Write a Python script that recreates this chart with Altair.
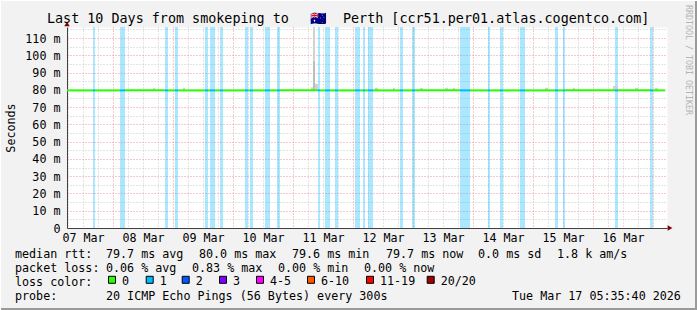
import altair as alt
import pandas as pd

MONO = "DejaVu Sans Mono"

# ---------------- data ----------------
title_left = "Last 10 Days from smokeping to"
title_flag = "🇦🇺"
title_right = "Perth [ccr51.per01.atlas.cogentco.com]"

range_start = "2026-03-07T05:35:40Z"
range_end = "2026-03-17T05:35:40Z"
line_end = "2026-03-17T04:48:00Z"

# periods with packet loss (1/20)
band_start = ["2026-03-07T16:00", "2026-03-08T02:48", "2026-03-08T20:48", "2026-03-09T00:48",
              "2026-03-09T12:48", "2026-03-09T14:48", "2026-03-09T18:48", "2026-03-10T04:48",
              "2026-03-10T06:48", "2026-03-10T12:48", "2026-03-10T17:36", "2026-03-11T10:00",
              "2026-03-11T12:48", "2026-03-11T16:48", "2026-03-12T00:48", "2026-03-12T04:00",
              "2026-03-12T06:00", "2026-03-12T18:48", "2026-03-12T23:36", "2026-03-13T18:48",
              "2026-03-14T06:00", "2026-03-14T10:48", "2026-03-14T18:48", "2026-03-15T08:48",
              "2026-03-15T12:00", "2026-03-16T08:48", "2026-03-16T22:48"]
band_end = ["2026-03-07T16:48", "2026-03-08T04:48", "2026-03-08T22:00", "2026-03-09T02:00",
            "2026-03-09T14:00", "2026-03-09T16:48", "2026-03-09T20:00", "2026-03-10T06:00",
            "2026-03-10T08:00", "2026-03-10T14:48", "2026-03-10T18:48", "2026-03-11T10:48",
            "2026-03-11T14:48", "2026-03-11T18:00", "2026-03-12T02:48", "2026-03-12T04:48",
            "2026-03-12T08:00", "2026-03-12T20:00", "2026-03-13T00:48", "2026-03-13T22:48",
            "2026-03-14T06:48", "2026-03-14T12:00", "2026-03-14T20:48", "2026-03-15T10:00",
            "2026-03-15T12:48", "2026-03-16T10:00", "2026-03-17T00:00"]
band_loss = ["1"] * len(band_start)

median_ms = 79.7

# smoke (ping spread) around the median
smoke_start = ["2026-03-11T08:00", "2026-03-11T08:00", "2026-03-11T08:48", "2026-03-11T07:12",
               "2026-03-08T16:00", "2026-03-09T04:00", "2026-03-12T08:48", "2026-03-12T16:00",
               "2026-03-13T02:48", "2026-03-13T12:48", "2026-03-13T16:00", "2026-03-15T04:48",
               "2026-03-15T16:00", "2026-03-16T08:00", "2026-03-16T16:48", "2026-03-17T00:48"]
smoke_end = ["2026-03-11T08:48", "2026-03-11T08:48", "2026-03-11T10:00", "2026-03-11T08:00",
             "2026-03-08T16:48", "2026-03-09T04:48", "2026-03-12T10:00", "2026-03-12T16:48",
             "2026-03-13T04:00", "2026-03-13T14:00", "2026-03-13T16:48", "2026-03-15T06:00",
             "2026-03-15T16:48", "2026-03-16T10:00", "2026-03-16T18:00", "2026-03-17T02:00"]
smoke_lo = [79.7, 97.0, 79.7, 79.7, 79.7, 79.7, 79.7, 79.7, 79.7, 79.7, 79.7, 79.7, 79.7, 79.7, 79.7, 79.7]
smoke_hi = [97.0, 116.4, 83.5, 81.5, 81.2, 81.2, 81.2, 81.2, 81.2, 81.2, 81.2, 81.2, 81.2, 82.3, 81.2, 81.2]
smoke_shade = ["inner", "outer", "outer", "outer", "outer", "outer", "outer", "outer",
               "outer", "outer", "outer", "outer", "outer", "outer", "outer", "outer"]

loss_labels = ["0", "1", "2", "3", "4-5", "6-10", "11-19", "20/20"]
loss_colors = ["#26ff00", "#00b8ff", "#0059ff", "#7e00ff", "#ff00ff", "#ff5500", "#ff0000", "#a10000"]

rtt_stats = ["79.7 ms avg", "80.0 ms max", "79.6 ms min", "79.7 ms now", "0.0 ms sd", "1.8 k am/s"]
loss_stats = ["0.06 % avg", "0.83 % max", "0.00 % min", "0.00 % now"]
probe_text = "20 ICMP Echo Pings (56 Bytes) every 300s"
stamp_text = "Tue Mar 17 05:35:40 2026"
y_title = "Seconds"
side_text = "RRDTOOL / TOBI OETIKER"
legend_title = "loss color:"


def iso(s):
    return s + ":00Z" if len(s) == 16 else s


# median segments coloured by loss
seg_start, seg_end, seg_loss = [], [], []
cur = range_start
for s, e, l in sorted(zip(map(iso, band_start), map(iso, band_end), band_loss)):
    if s > cur:
        seg_start.append(cur); seg_end.append(s); seg_loss.append("0")
    seg_start.append(s); seg_end.append(e); seg_loss.append(l)
    cur = e
if cur < line_end:
    seg_start.append(cur); seg_end.append(line_end); seg_loss.append("0")

bands_df = pd.DataFrame({"start": [iso(s) for s in band_start],
                         "end": [iso(s) for s in band_end], "loss": band_loss})
median_df = pd.DataFrame({"start": seg_start, "end": seg_end, "loss": seg_loss,
                          "ms": [median_ms] * len(seg_start)})
smoke_df = pd.DataFrame({"start": [iso(s) for s in smoke_start], "end": [iso(s) for s in smoke_end],
                         "lo": smoke_lo, "hi": smoke_hi, "shade": smoke_shade})

# grid positions (every 6 h, every 5 ms)
x_ticks = [int(t.value // 10**6) for t in
           pd.date_range("2026-03-07T06:00", "2026-03-17T00:00", freq="6h", tz="UTC")]
y_ticks = list(range(0, 116, 5))

MAJOR = "#f09393"
MINOR = "#c8c8c8"

x_scale = alt.Scale(type="utc", domain=[
    alt.DateTime(year=2026, month=3, date=7, hours=5, minutes=35, seconds=40, utc=True),
    alt.DateTime(year=2026, month=3, date=17, hours=5, minutes=35, seconds=40, utc=True)])
y_scale = alt.Scale(domain=[0, 116.4], nice=False, zero=False)
loss_scale = alt.Scale(domain=loss_labels, range=loss_colors)

x_axis = alt.Axis(
    values=x_ticks, title=None, ticks=False, domainColor="#404040",
    labelExpr="utchours(datum.value) === 12 ? utcFormat(datum.value, '%d %b') : ''",
    labelFont=MONO, labelFontSize=11.7, labelColor="black", labelBaseline="middle",
    labelPadding=9, labelOverlap=False, labelFlush=False,
    grid=True, gridDash=[1, 2], gridWidth=1,
    gridColor={"condition": {"test": "utchours(datum.value) === 0", "value": MAJOR}, "value": MINOR})

y_axis = alt.Axis(
    values=y_ticks, title=y_title, ticks=False, domainColor="#404040",
    titleFont=MONO, titleFontSize=11.7, titleFontWeight="normal", titleColor="black",
    titleX=-57, titleY=100.5, titleAlign="center", titleBaseline="middle",
    labelExpr="datum.value % 10 === 0 ? (datum.value === 0 ? '0' : datum.value + ' m') : ''",
    labelFont=MONO, labelFontSize=11.7, labelColor="black", labelPadding=7,
    grid=True, gridDash=[1, 2], gridWidth=1,
    gridColor={"condition": {"test": "datum.value % 10 === 0", "value": MAJOR}, "value": MINOR})

bands = alt.Chart(bands_df).mark_rect(fillOpacity=0.33).encode(
    x=alt.X("start:T", scale=x_scale, axis=x_axis),
    x2="end:T",
    color=alt.Color("loss:N", scale=loss_scale, legend=None),
)

smoke = alt.Chart(smoke_df).mark_rect().encode(
    x=alt.X("start:T", scale=x_scale, axis=x_axis),
    x2="end:T",
    y=alt.Y("lo:Q", scale=y_scale, axis=y_axis),
    y2="hi:Q",
    fill=alt.Fill("shade:N", scale=alt.Scale(domain=["inner", "outer"], range=["#bdbdbd", "#d2d2d2"]),
                  legend=None),
)

median = alt.Chart(median_df).mark_rule(strokeWidth=2).encode(
    x=alt.X("start:T", scale=x_scale, axis=x_axis),
    x2="end:T",
    y=alt.Y("ms:Q", scale=y_scale, axis=y_axis),
    stroke=alt.Stroke("loss:N", scale=loss_scale, legend=None),
)


def txt(s, x, y, size=11.7, color="black", align="left", angle=0):
    return alt.Chart(alt.Data(values=[{"t": s}])).mark_text(
        font=MONO, fontSize=size, color=color, align=align, baseline="middle", angle=angle
    ).encode(text="t:N", x=alt.value(x - 67), y=alt.value(y - 27))


def swatch(label, color, x, y):
    return alt.Chart(alt.Data(values=[{"loss": label}])).mark_square(
        size=49, filled=True, fill=color, stroke="black", strokeWidth=1, opacity=1
    ).encode(x=alt.value(x - 67), y=alt.value(y - 27))


texts = [
    txt(title_left, 47, 19, size=13.4),
    txt(title_flag, 318, 19, size=13.4, align="center"),
    txt(title_right, 343, 19, size=13.4),
    txt("median rtt:", 15, 253.5),
    txt("packet loss:", 15, 267.5),
    txt(legend_title, 15, 281.5),
    txt("probe:", 15, 295.5),
    txt(probe_text, 106, 295.5),
    txt(stamp_text, 512, 295.5),
    txt(side_text, 688, 60, size=8.3, color="#b4b4b4", align="center", angle=90),
]
for s, x in zip(rtt_stats, [106, 199, 292, 386, 478, 557]):
    texts.append(txt(s, x, 253.5))
for s, x in zip(loss_stats, [106, 192, 278, 364]):
    texts.append(txt(s, x, 267.5))

# "loss color:" legend entries (square left edges)
legend_left = [108, 145.7, 181.7, 219, 256, 307, 366, 426.7]
legend_layers = []
for lab, col, left in zip(loss_labels, loss_colors, legend_left):
    legend_layers.append(swatch(lab, col, left + 4, 279.8))
    legend_layers.append(txt(lab, left + 14, 281))

one = alt.Data(values=[{}])
arrow_up = alt.Chart(one).mark_point(shape="triangle-up", filled=True, size=30, color="#800000", opacity=1).encode(
    x=alt.value(0), y=alt.value(-3))
arrow_right = alt.Chart(one).mark_point(shape="triangle-right", filled=True, size=30, color="#800000", opacity=1).encode(
    x=alt.value(603), y=alt.value(201))
frame_bottom = alt.Chart(one).mark_rule(color="#9a9a9a", strokeWidth=2).encode(
    x=alt.value(-67), x2=alt.value(630), y=alt.value(282))
frame_right = alt.Chart(one).mark_rule(color="#9a9a9a", strokeWidth=2).encode(
    x=alt.value(629), y=alt.value(-27), y2=alt.value(283))
frame_top = alt.Chart(one).mark_rule(color="#ffffff", strokeWidth=1).encode(
    x=alt.value(-67), x2=alt.value(630), y=alt.value(-26.5))
frame_left = alt.Chart(one).mark_rule(color="#ffffff", strokeWidth=1).encode(
    x=alt.value(-66.5), y=alt.value(-27), y2=alt.value(283))

chart = alt.layer(
    bands, smoke, median, arrow_up, arrow_right, *texts, *legend_layers,
    frame_bottom, frame_right, frame_top, frame_left
).properties(
    width=600, height=201,
    padding={"left": 67, "top": 27, "right": 30, "bottom": 82},
    autosize=alt.AutoSizeParams(type="none"),
    background="#f2f2f2",
).configure_view(fill="white", stroke="transparent")

chart.save("out.html", embed_options={"renderer": "svg", "actions": False})
